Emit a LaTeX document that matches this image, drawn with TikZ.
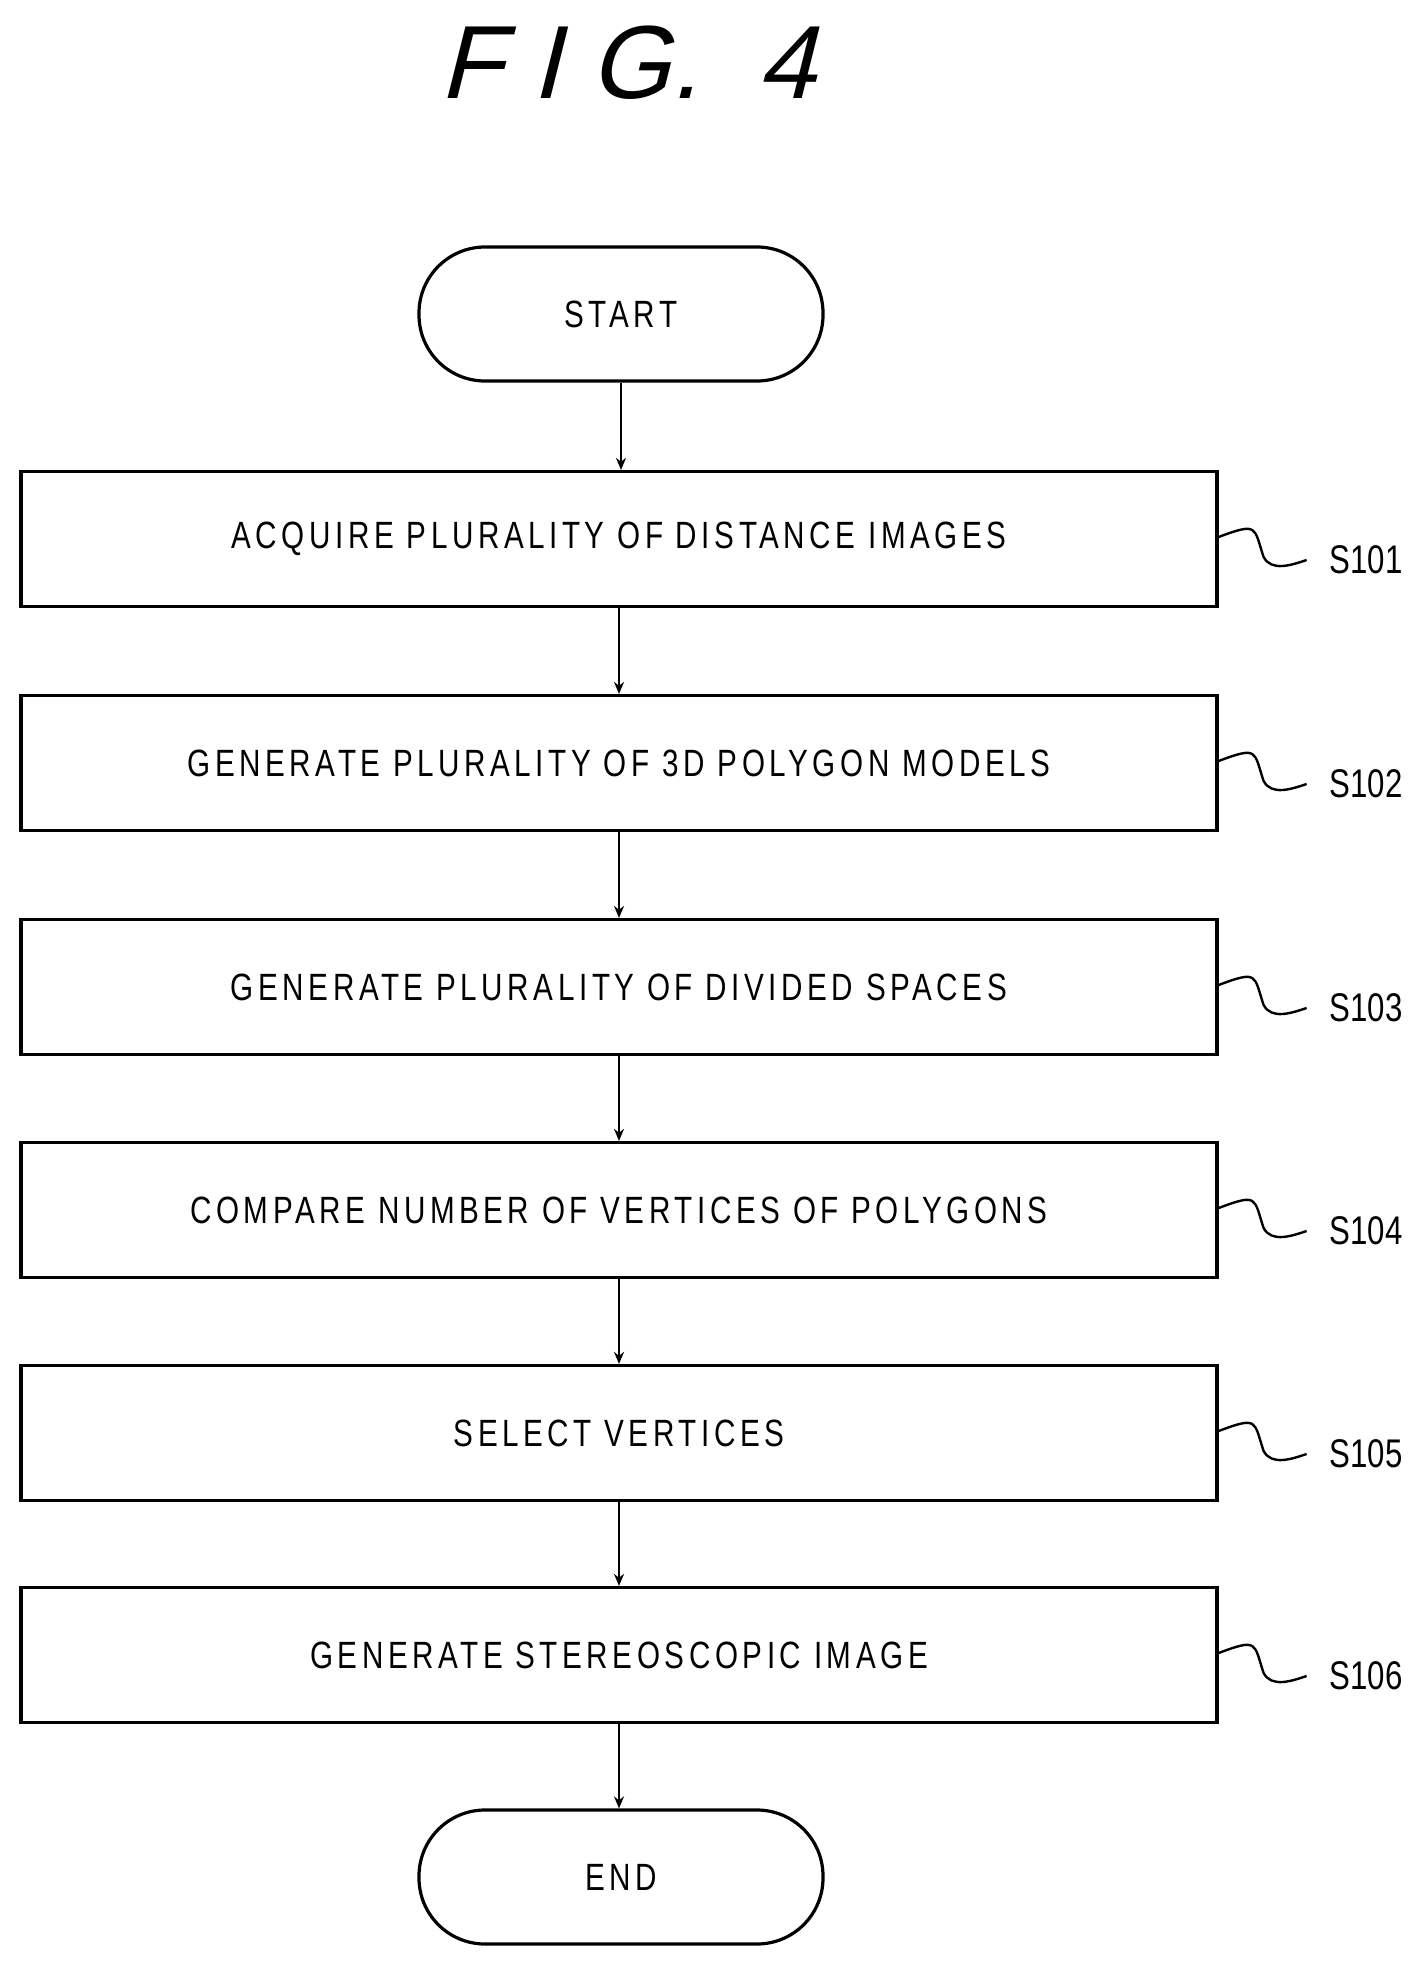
\documentclass[tikz,border=0pt]{standalone}
\usepackage{fontspec}
\usetikzlibrary{arrows.meta}
\setmainfont{Liberation Sans}[FakeStretch=0.78]
\newfontfamily\titlefont{Liberation Sans}[FakeSlant=0.25]
\begin{document}
\begin{tikzpicture}[x=0.5pt,y=-0.5pt,
  box/.style={draw,line width=1.6pt,minimum width=598pt,minimum height=67.5pt,inner sep=0pt,font=\fontsize{19}{22}\selectfont\addfontfeature{LetterSpace=12}},
  term/.style={draw,line width=1.6pt,rounded corners=33pt,minimum width=202pt,minimum height=67pt,inner sep=0pt,font=\fontsize{19}{22}\selectfont\addfontfeature{LetterSpace=12}},
  arr/.style={draw,line width=1.2pt,-{Stealth[length=6pt,width=5pt]}},
  lab/.style={font=\fontsize{20}{22}\selectfont,anchor=west}]
\useasboundingbox (0,0) rectangle (1426,1965);
\node[font=\titlefont\fontsize{52}{56}\selectfont] (title) at (627,63) {F I G. \ 4};
\node[term] (start) at (621,314) {START};
\node[box] (b1) at (619,539) {ACQUIRE PLURALITY OF DISTANCE IMAGES};
\node[box] (b2) at (619,763) {GENERATE PLURALITY OF 3D POLYGON MODELS};
\node[box] (b3) at (619,987) {GENERATE PLURALITY OF DIVIDED SPACES};
\node[box] (b4) at (619,1210) {COMPARE NUMBER OF VERTICES OF POLYGONS};
\node[box] (b5) at (619,1433) {SELECT VERTICES};
\node[box] (b6) at (619,1655) {GENERATE STEREOSCOPIC IMAGE};
\node[term] (end) at (621,1877) {END};
\draw[arr] (start) -- (start|-b1.north);
\draw[arr] (b1) -- (b1|-b2.north);
\draw[arr] (b2) -- (b2|-b3.north);
\draw[arr] (b3) -- (b3|-b4.north);
\draw[arr] (b4) -- (b4|-b5.north);
\draw[arr] (b5) -- (b5|-b6.north);
\draw[arr] (b6) -- (b6|-end.north);
\foreach \b/\t in {b1/S101,b2/S102,b3/S103,b4/S104,b5/S105,b6/S106}{
  \coordinate (e\b) at ([yshift=1pt]\b.east);
  \draw[line width=1.2pt] (e\b) .. controls ++(40,-15) and ++(-10,-30) .. ++(45,20) .. controls ++(8,15) and ++(-15,5) .. ++(43,3) coordinate (f\b);
  \node[lab] (l\b) at ([xshift=8pt]f\b) {\t};
}
\end{tikzpicture}
\end{document}
